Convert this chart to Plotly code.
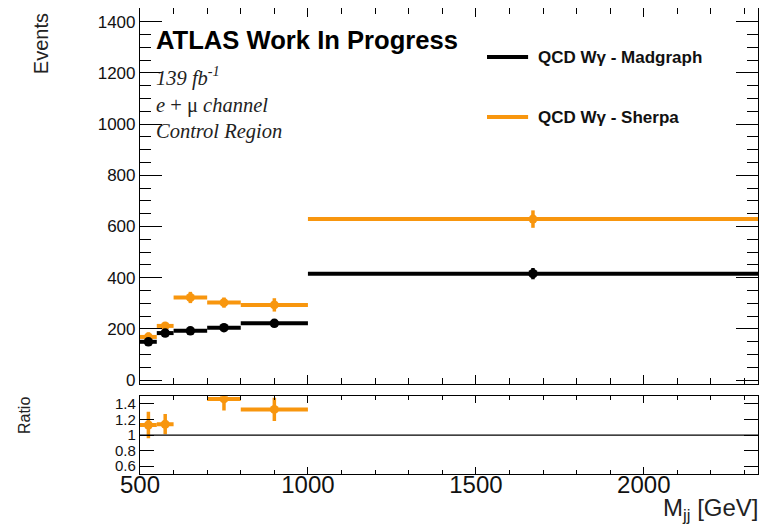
import plotly.graph_objects as go

# ---- data ----
bin_edges = [500, 550, 600, 700, 800, 1000, 2340]
madgraph = [150, 184, 193, 205, 222, 416]
madgraph_err = [8, 7, 7, 7, 9, 22]
sherpa = [169, 212, 323, 303, 294, 629]
sherpa_err = [18, 15, 22, 20, 26, 34]
ratio = [1.13, 1.14, None, 1.465, 1.33, None]
ratio_err = [0.17, 0.13, None, 0.15, 0.15, None]

centers = [(a + b) / 2 for a, b in zip(bin_edges[:-1], bin_edges[1:])]
half_w = [(b - a) / 2 for a, b in zip(bin_edges[:-1], bin_edges[1:])]

BLACK = "#000000"
ORANGE = "#f8960e"
FONT = "Liberation Sans, Arial, sans-serif"
SERIF = "Liberation Serif, Times New Roman, serif"

fig = go.Figure()

fig.add_trace(go.Scatter(
    x=centers, y=sherpa, mode="markers", name="QCD W\u03b3 - Sherpa",
    marker=dict(color=ORANGE, size=9),
    error_x=dict(type="data", array=half_w, color=ORANGE, thickness=4, width=0),
    error_y=dict(type="data", array=sherpa_err, color=ORANGE, thickness=3.5, width=0),
    xaxis="x", yaxis="y", showlegend=False))
fig.add_trace(go.Scatter(
    x=centers, y=madgraph, mode="markers", name="QCD W\u03b3 - Madgraph",
    marker=dict(color=BLACK, size=9.5),
    error_x=dict(type="data", array=half_w, color=BLACK, thickness=4, width=0),
    error_y=dict(type="data", array=madgraph_err, color=BLACK, thickness=3.5, width=0),
    xaxis="x", yaxis="y", showlegend=False))

fig.add_trace(go.Scatter(
    x=centers, y=ratio, mode="markers", name="Ratio",
    marker=dict(color=ORANGE, size=9),
    error_x=dict(type="data", array=half_w, color=ORANGE, thickness=4, width=0),
    error_y=dict(type="data", array=ratio_err, color=ORANGE, thickness=3.5, width=0),
    xaxis="x2", yaxis="y2", showlegend=False, cliponaxis=True))

xr = [bin_edges[0], bin_edges[-1]]
axline = dict(showline=True, linecolor="black", linewidth=1.2, mirror="allticks",
              ticks="inside", tickcolor="black", showgrid=False, zeroline=False)

# the page body has an 8px margin, so the figure is 8px smaller and offset
fig.update_layout(
    width=762, height=517,
    margin=dict(l=132, r=12, t=0, b=51),
    paper_bgcolor="white", plot_bgcolor="white",
    font=dict(family=FONT, color="black"),
    xaxis=dict(domain=[0, 1], anchor="y", range=xr, showticklabels=False,
               tick0=0, dtick=500, ticklen=9, tickwidth=1,
               minor=dict(dtick=100, ticklen=6, ticks="inside", tickcolor="black", showgrid=False),
               **axline),
    yaxis=dict(domain=[0.193, 1], anchor="x", range=[-15, 1453],
               tick0=0, dtick=200, ticklen=22, tickwidth=1,
               tickfont=dict(size=17, family=FONT, color="#111"),
               minor=dict(dtick=50, ticklen=11, ticks="inside", tickcolor="black", showgrid=False),
               **axline),
    xaxis2=dict(domain=[0, 1], anchor="y2", range=xr,
                tick0=0, dtick=500, ticklen=7, tickwidth=1,
                tickfont=dict(size=24, family=FONT, color="#111"),
                ticklabelstandoff=-11,
                minor=dict(dtick=100, ticklen=4, ticks="inside", tickcolor="black", showgrid=False),
                **axline),
    yaxis2=dict(domain=[0, 0.167], anchor="x2", range=[0.5, 1.5],
                tickvals=[0.6, 0.8, 1.0, 1.2, 1.4], ticktext=["0.6", "0.8", "1", "1.2", "1.4"],
                ticklen=14, tickwidth=1,
                tickfont=dict(size=15, family=FONT, color="#111"),
                **axline),
)

# ratio reference line at 1
fig.add_shape(type="line", xref="x2 domain", yref="y2", x0=0, x1=1, y0=1, y1=1,
              line=dict(color="black", width=1.2))

# legend drawn manually (ROOT-style)
for y, col, txt in [(0.8948, BLACK, "QCD W\u03b3 - Madgraph"), (0.766, ORANGE, "QCD W\u03b3 - Sherpa")]:
    fig.add_shape(type="line", xref="paper", yref="paper", x0=0.5615, x1=0.628, y0=y, y1=y,
                  line=dict(color=col, width=4))
    fig.add_annotation(xref="paper", yref="paper", x=0.641, y=y, xanchor="left", yanchor="middle",
                       text="<b>" + txt + "</b>", showarrow=False,
                       font=dict(size=17, family=FONT, color="#111"))

# labels
fig.add_annotation(xref="paper", yref="paper", x=0.022, y=0.931, xanchor="left", yanchor="middle",
                   text="<b>ATLAS Work In Progress</b>", showarrow=False,
                   font=dict(size=25.6, family=FONT, color="black"))
fig.add_annotation(xref="paper", yref="paper", x=0.022, y=0.852, xanchor="left", yanchor="middle",
                   text="<i>139 fb</i><sup><i>-1</i></sup>", showarrow=False,
                   font=dict(size=20.5, family=SERIF, color="#222"))
fig.add_annotation(xref="paper", yref="paper", x=0.022, y=0.7897, xanchor="left", yanchor="middle",
                   text="<i>e</i> + \u03bc <i>channel</i>", showarrow=False,
                   font=dict(size=20.5, family=SERIF, color="#222"))
fig.add_annotation(xref="paper", yref="paper", x=0.022, y=0.734, xanchor="left", yanchor="middle",
                   text="<i>Control Region</i>", showarrow=False,
                   font=dict(size=20.5, family=SERIF, color="#222"))

fig.add_annotation(xref="paper", yref="paper", x=-0.159, y=0.924, xanchor="center", yanchor="middle",
                   text="Events", textangle=-90, showarrow=False,
                   font=dict(size=20, family=FONT, color="#222"))
fig.add_annotation(xref="paper", yref="paper", x=-0.186, y=0.1245, xanchor="center", yanchor="middle",
                   text="Ratio", textangle=-90, showarrow=False,
                   font=dict(size=16, family=FONT, color="#222"))
fig.add_annotation(xref="paper", yref="paper", x=1.005, y=-0.077, xanchor="right", yanchor="middle",
                   text="M<sub>jj</sub> [GeV]", showarrow=False,
                   font=dict(size=24, family=FONT, color="#222"))

fig.write_html("out.html")
